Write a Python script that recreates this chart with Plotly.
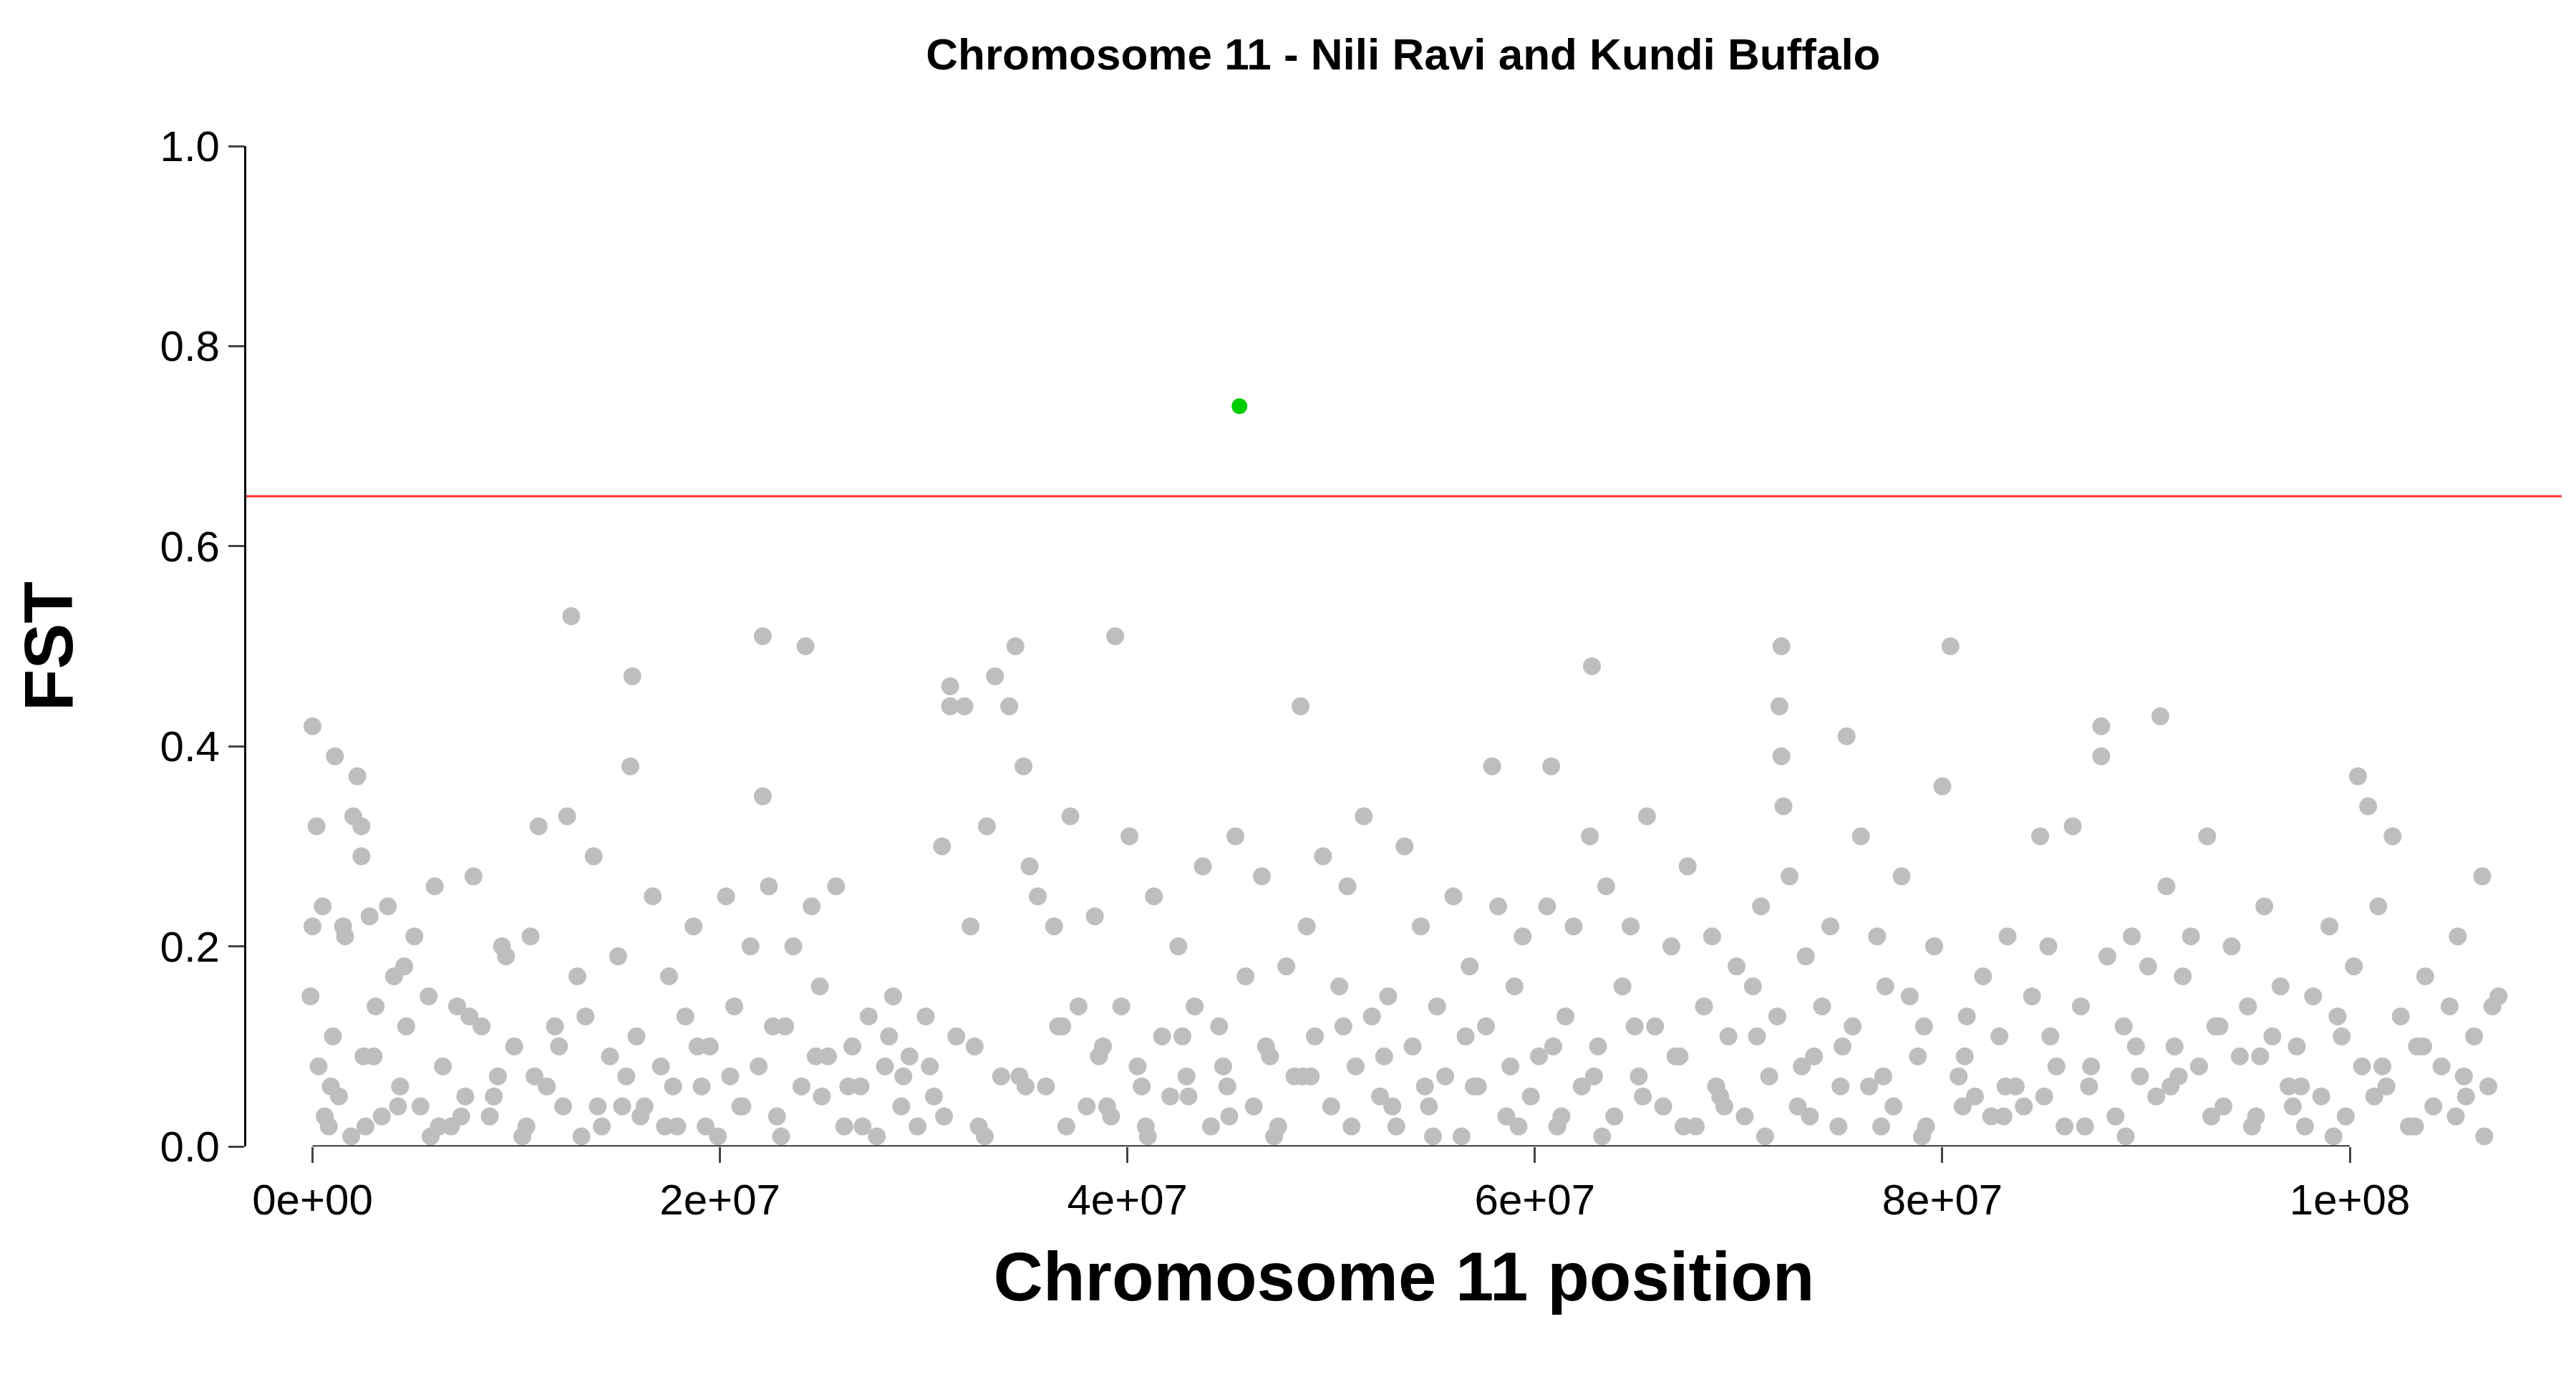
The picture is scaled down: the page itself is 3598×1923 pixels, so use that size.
import plotly.graph_objects as go

# positions in Mb, Fst values
pos_mb = [
    0.0, 0.2, 0.0, -0.1, 1.1, 2.2, 2.0, 2.4, 2.4, 12.7, 12.5, 15.7, 15.6, 22.1, 24.2, 22.1,
    31.3, 31.3, 32.0, 34.5, 33.5, 34.9, 39.4, 48.5, 45.5, 57.9, 60.8, 62.8, 72.1, 72.0, 72.1,
    72.2, 75.3, 80.4, 80.0, 87.8, 87.8, 90.7, 100.4, 100.9, 102.1, 106.5, 107.0,
    0.3, 0.5, 0.8, 1.0, 1.3, 1.6, 1.9, 2.5, 2.8, 3.1, 3.4, 3.7, 4.0, 4.3, 4.6, 5.0, 5.3, 5.7,
    6.0, 6.4, 6.8, 7.1, 7.5, 7.9, 8.3, 8.7, 9.1, 9.5, 9.9, 10.3, 10.7, 11.1, 11.5, 11.9, 12.3,
    13.0, 13.4, 13.8, 14.2, 14.6, 15.0, 15.4, 15.9, 16.3, 16.7, 17.1, 17.5, 17.9, 18.3, 18.7,
    19.1, 19.5, 19.9, 20.3, 20.7, 21.1, 21.5, 21.9, 22.4, 22.8, 23.2, 23.6, 24.0, 24.5, 24.9,
    25.3, 25.7, 26.1, 26.5, 26.9, 27.3, 27.7, 28.1, 28.5, 28.9, 29.3, 29.7, 30.1, 30.5, 30.9,
    31.6, 32.3, 32.7, 33.1, 33.8, 34.2, 35.2, 35.6, 36.0, 36.4, 36.8, 37.2, 37.6, 38.0, 38.4,
    38.8, 39.2, 39.7, 40.1, 40.5, 40.9, 41.3, 41.7, 42.1, 42.5, 42.9, 43.3, 43.7, 44.1, 44.5,
    44.9, 45.3, 45.8, 46.2, 46.6, 47.0, 47.4, 47.8, 48.2, 48.8, 49.2, 49.6, 50.0, 50.4, 50.8,
    51.2, 51.6, 52.0, 52.4, 52.8, 53.2, 53.6, 54.0, 54.4, 54.8, 55.2, 55.6, 56.0, 56.4, 56.8,
    57.2, 57.6, 58.2, 58.6, 59.0, 59.4, 59.8, 60.2, 60.6, 61.1, 61.5, 61.9, 62.3, 62.7, 63.1,
    63.5, 63.9, 64.3, 64.7, 65.1, 65.5, 65.9, 66.3, 66.7, 67.1, 67.5, 67.9, 68.3, 68.7, 69.1,
    69.5, 69.9, 70.3, 70.7, 71.1, 71.5, 71.9, 72.5, 72.9, 73.3, 73.7, 74.1, 74.5, 74.9, 75.6,
    76.0, 76.4, 76.8, 77.2, 77.6, 78.0, 78.4, 78.8, 79.2, 79.6, 80.8, 81.2, 81.6, 82.0, 82.4,
    82.8, 83.2, 83.6, 84.0, 84.4, 84.8, 85.2, 85.6, 86.0, 86.4, 86.8, 87.2, 88.1, 88.5, 88.9,
    89.3, 89.7, 90.1, 90.5, 91.0, 91.4, 91.8, 92.2, 92.6, 93.0, 93.4, 93.8, 94.2, 94.6, 95.0,
    95.4, 95.8, 96.2, 96.6, 97.0, 97.4, 97.8, 98.2, 98.6, 99.0, 99.4, 99.8, 100.2, 100.6, 101.4,
    101.8, 102.5, 102.9, 103.3, 103.7, 104.1, 104.5, 104.9, 105.3, 105.7, 106.1, 106.8, 107.3,
    0.6, 1.5, 3.0, 4.5, 6.2, 7.7, 9.3, 10.9, 12.1, 14.0, 16.1, 17.7, 19.3, 21.0, 23.0, 25.0,
    27.0, 29.0, 31.0, 33.0, 35.0, 37.0, 39.0, 41.0, 43.0, 45.0, 47.2, 49.0, 51.0, 53.0, 55.0,
    57.0, 59.2, 61.3, 63.3, 65.3, 67.3, 69.3, 71.3, 73.5, 75.0, 77.0, 79.0, 81.0, 83.0, 85.0,
    87.0, 89.0, 91.2, 93.2, 95.2, 97.2, 99.2, 101.2, 103.2, 105.2, 106.6,
    0.9, 2.6, 4.2, 5.8, 7.3, 8.9, 10.5, 13.2, 15.2, 17.3, 18.9, 20.5, 22.6, 24.7, 26.3, 28.3,
    30.3, 32.5, 34.7, 36.6, 38.6, 40.7, 42.7, 44.7, 46.8, 48.6, 50.6, 52.6, 54.6, 56.6, 58.8,
    60.9, 62.9, 64.9, 66.9, 68.9, 70.9, 73.1, 75.1, 77.1, 79.1, 81.1, 83.1, 85.3, 87.3, 89.5,
    91.6, 93.6, 95.6, 97.6, 99.6, 101.6, 103.6, 105.6,
]
fst = [
    0.42, 0.32, 0.22, 0.15, 0.39, 0.37, 0.33, 0.32, 0.29, 0.53, 0.33, 0.47, 0.38, 0.51, 0.50, 0.35,
    0.44, 0.46, 0.44, 0.50, 0.47, 0.38, 0.51, 0.44, 0.74, 0.38, 0.38, 0.48, 0.50, 0.44, 0.39,
    0.34, 0.41, 0.50, 0.36, 0.42, 0.39, 0.43, 0.37, 0.34, 0.31, 0.27, 0.14,
    0.08, 0.24, 0.02, 0.11, 0.05, 0.21, 0.01, 0.09, 0.23, 0.14, 0.03, 0.24, 0.17, 0.06, 0.12,
    0.21, 0.04, 0.15, 0.26, 0.08, 0.02, 0.14, 0.05, 0.27, 0.12, 0.03, 0.07, 0.19, 0.10, 0.01,
    0.21, 0.32, 0.06, 0.12, 0.04, 0.17, 0.13, 0.29, 0.02, 0.09, 0.19, 0.07, 0.11, 0.04, 0.25,
    0.08, 0.17, 0.02, 0.13, 0.22, 0.06, 0.10, 0.01, 0.25, 0.14, 0.04, 0.20, 0.08, 0.26, 0.03,
    0.12, 0.20, 0.06, 0.24, 0.16, 0.09, 0.26, 0.02, 0.10, 0.06, 0.13, 0.01, 0.08, 0.15, 0.04,
    0.09, 0.02, 0.13, 0.05, 0.30, 0.11, 0.22, 0.02, 0.32, 0.07, 0.44, 0.28, 0.25, 0.06, 0.22,
    0.12, 0.33, 0.14, 0.04, 0.23, 0.10, 0.03, 0.14, 0.31, 0.08, 0.02, 0.25, 0.11, 0.05, 0.20,
    0.07, 0.14, 0.28, 0.02, 0.12, 0.06, 0.31, 0.17, 0.04, 0.27, 0.09, 0.02, 0.18, 0.07, 0.22,
    0.11, 0.29, 0.04, 0.16, 0.26, 0.08, 0.33, 0.13, 0.05, 0.15, 0.02, 0.30, 0.10, 0.22, 0.04,
    0.14, 0.07, 0.25, 0.01, 0.18, 0.06, 0.12, 0.24, 0.03, 0.16, 0.21, 0.05, 0.09, 0.24, 0.02,
    0.13, 0.22, 0.06, 0.31, 0.10, 0.26, 0.03, 0.16, 0.22, 0.07, 0.33, 0.12, 0.04, 0.20, 0.09,
    0.28, 0.02, 0.14, 0.21, 0.05, 0.11, 0.18, 0.03, 0.16, 0.24, 0.07, 0.13, 0.27, 0.04, 0.19,
    0.09, 0.14, 0.22, 0.02, 0.12, 0.31, 0.06, 0.21, 0.16, 0.04, 0.27, 0.15, 0.09, 0.02, 0.20,
    0.07, 0.13, 0.05, 0.17, 0.03, 0.11, 0.21, 0.06, 0.04, 0.15, 0.31, 0.20, 0.08, 0.02, 0.32,
    0.14, 0.06, 0.19, 0.03, 0.12, 0.21, 0.07, 0.18, 0.05, 0.26, 0.10, 0.17, 0.21, 0.08, 0.31,
    0.12, 0.04, 0.20, 0.09, 0.14, 0.03, 0.24, 0.11, 0.16, 0.06, 0.10, 0.02, 0.15, 0.05, 0.22,
    0.13, 0.03, 0.18, 0.08, 0.24, 0.06, 0.13, 0.02, 0.10, 0.17, 0.04, 0.08, 0.14, 0.21, 0.05,
    0.11, 0.06, 0.15, 0.03, 0.22, 0.09, 0.18, 0.02, 0.13, 0.20, 0.07, 0.10, 0.04,
    0.03, 0.06, 0.02, 0.04, 0.01, 0.05, 0.02, 0.07, 0.03, 0.01, 0.06, 0.02, 0.04, 0.01, 0.05,
    0.03, 0.01, 0.07, 0.02, 0.04, 0.01, 0.06, 0.02, 0.03, 0.01, 0.05, 0.02, 0.04, 0.01, 0.03,
    0.06, 0.02, 0.01, 0.04, 0.03, 0.05, 0.02, 0.01, 0.06, 0.03, 0.02, 0.04, 0.01, 0.05, 0.02,
    0.03, 0.01, 0.06, 0.02, 0.04, 0.01, 0.03, 0.05, 0.02, 0.01, 0.04, 0.02,
    0.10, 0.07, 0.12, 0.09, 0.06, 0.11, 0.08, 0.10, 0.07, 0.12, 0.09, 0.06, 0.11, 0.08, 0.10,
    0.07, 0.12, 0.09, 0.06, 0.11, 0.08, 0.10, 0.07, 0.12, 0.09, 0.06, 0.11, 0.08, 0.10, 0.07,
    0.12, 0.09, 0.06, 0.11, 0.08, 0.10, 0.07, 0.12, 0.09, 0.06, 0.11, 0.08, 0.10, 0.07, 0.12,
    0.09, 0.06, 0.11, 0.08, 0.10, 0.07, 0.12, 0.09, 0.06,
]
outlier_pos_mb = [45.5]
outlier_fst = [0.74]
threshold = 0.65
x_tickvals = [0, 2e7, 4e7, 6e7, 8e7, 1e8]
x_ticktext = ["0e+00", "2e+07", "4e+07", "6e+07", "8e+07", "1e+08"]
y_tickvals = [0.0, 0.2, 0.4, 0.6, 0.8, 1.0]

gx, gy = [], []
for p, f in zip(pos_mb, fst):
    if f < threshold:
        gx.append(p * 1e6)
        gy.append(f)

fig = go.Figure()
fig.add_scatter(x=gx, y=gy, mode="markers", cliponaxis=False,
                marker=dict(color="#bebebe", size=25), showlegend=False)
fig.add_scatter(x=[p * 1e6 for p in outlier_pos_mb], y=outlier_fst, mode="markers",
                marker=dict(color="#00cd00", size=22), showlegend=False)

# red threshold line across the plot
fig.add_hline(y=threshold, line=dict(color="#ff3030", width=3))
# R-style x axis line, only across the tick span
fig.add_shape(type="line", xref="x", yref="y", x0=0, x1=1e8, y0=0, y1=0,
              line=dict(color="black", width=3))

fig.update_layout(
    width=3598, height=1923,
    paper_bgcolor="white", plot_bgcolor="white",
    margin=dict(l=336, r=28, t=196, b=330),
    font=dict(family="Liberation Sans, Arial", color="black"),
    title=dict(text="<b>Chromosome 11 - Nili Ravi and Kundi Buffalo</b>",
               x=0.5425, xanchor="center", y=0.965, yanchor="middle",
               font=dict(size=62)),
    xaxis=dict(range=[-3.25e6, 1.104e8], tickvals=x_tickvals, ticktext=x_ticktext,
               ticks="outside", ticklen=22, tickwidth=3, showgrid=False, zeroline=False,
               showline=False, tickfont=dict(size=60),
               title=dict(text="<b>Chromosome 11 position</b>", font=dict(size=96), standoff=40)),
    yaxis=dict(range=[0, 1.0], tickvals=y_tickvals, tickformat=".1f",
               ticks="outside", ticklen=22, tickwidth=3, showgrid=False, zeroline=False,
               showline=True, linecolor="black", linewidth=3, tickfont=dict(size=60),
               title=dict(text="<b>FST</b>", font=dict(size=96), standoff=90)),
)

fig.write_html("out.html")
